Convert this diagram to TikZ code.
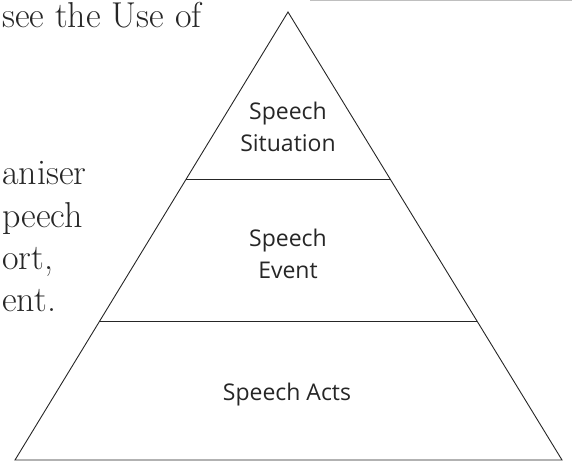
\documentclass[tikz,border=0pt]{standalone}
\usepackage{fontspec}
\newfontfamily\tierfont{Open Sans}
\usetikzlibrary{calc}

\begin{document}
\begin{tikzpicture}[x=1pt,y=-1pt,
		tier/.style={font={\tierfont\fontsize{23}{32}\selectfont},align=center,anchor=base,inner sep=0pt,text=black!85},
		body/.style={font={\fontsize{36}{42}\selectfont},anchor=base west,inner sep=0pt,text=black!85},
		edge/.style={draw=black!85,line width=0.9pt}]
		\useasboundingbox (0,0) rectangle (572,461);
		% pyramid corners
		\coordinate (apex) at (288,12);
		\coordinate (bl) at (15,460);
		\coordinate (br) at (562,460);
		\draw[edge,line join=miter] (apex) -- (bl) -- (br) -- cycle;
		% tier borders
		\coordinate (l1) at ($(apex)!0.373!(bl)$);
		\coordinate (r1) at ($(apex)!0.373!(br)$);
		\coordinate (l2) at ($(apex)!0.690!(bl)$);
		\coordinate (r2) at ($(apex)!0.690!(br)$);
		\draw[edge] (l1) -- (r1);
		\draw[edge] (l2) -- (r2);
		% tier labels (base = last line)
		\node[tier] (situation) at (288,151) {Speech\\Situation};
		\node[tier] (event) at (288,278) {Speech\\Event};
		\node[tier] (acts) at (287,400) {Speech Acts};
		% page text and rule
		\node[body] (use) at (2,27) {see the Use of};
		\node[body] (organiser) at (2,184) {aniser};
		\node[body] (speech) at (2,227) {peech};
		\node[body] (short) at (2,269) {ort,};
		\node[body] (event2) at (2,311) {ent.};
		\coordinate (rulea) at (310,0.7);
		\coordinate (ruleb) at (572,0.7);
		\draw[black!25,line width=1.4pt] (rulea) -- (ruleb);
	\end{tikzpicture}
\end{document}
